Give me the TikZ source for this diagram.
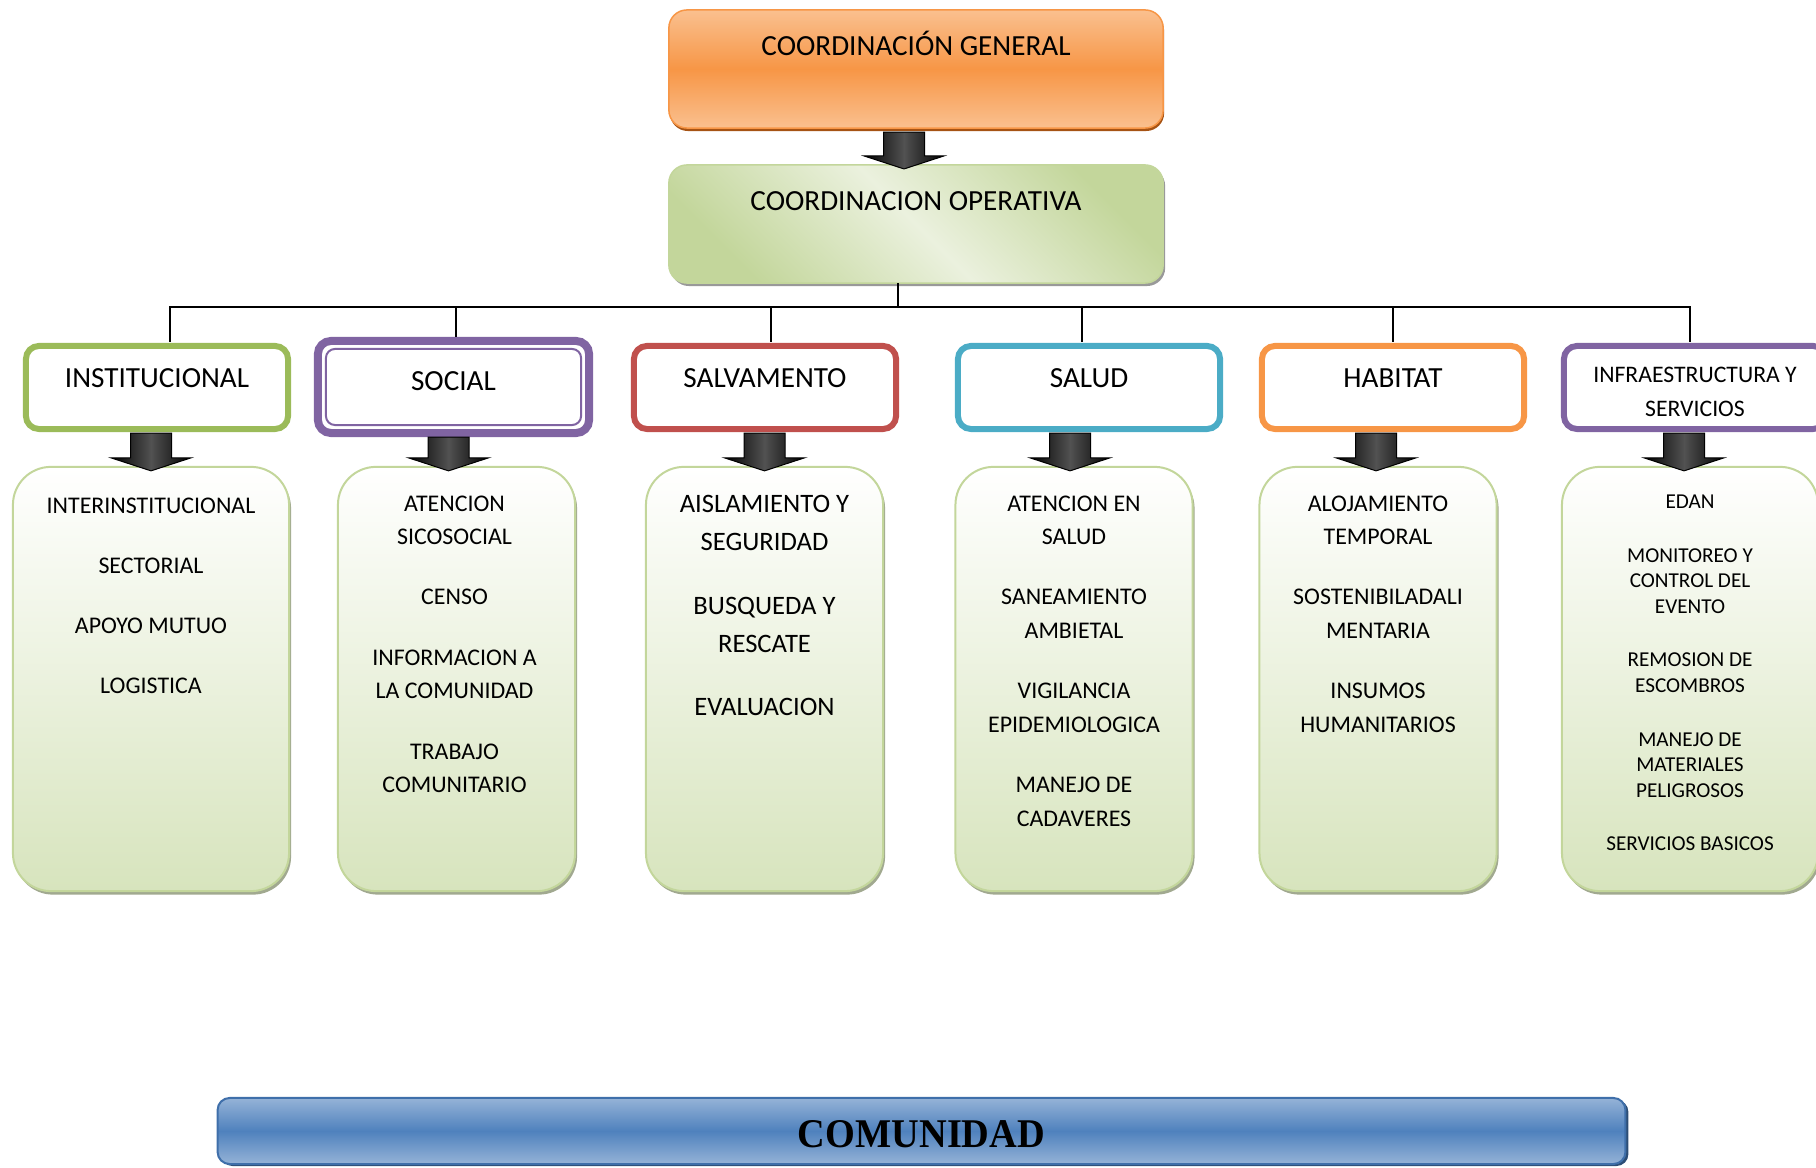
\documentclass[tikz,border=0pt]{standalone}
\usepackage{fontspec}
\setmainfont{Carlito}
\newfontfamily\comfont{Liberation Serif}
\usetikzlibrary{calc,shadows}

\definecolor{cgorange}{HTML}{F79646}
\definecolor{cglight}{HTML}{FAC08F}
\definecolor{cgshade}{HTML}{A65314}
\definecolor{cogreen}{HTML}{C3D69B}
\definecolor{colight}{HTML}{EBF1DE}
\definecolor{catgreen}{HTML}{9BBB59}
\definecolor{catpurple}{HTML}{8064A2}
\definecolor{catred}{HTML}{C0504D}
\definecolor{catblue}{HTML}{4BACC6}
\definecolor{catorange}{HTML}{F79646}
\definecolor{listline}{HTML}{C3D69B}
\definecolor{listfill}{HTML}{D7E4BD}
\definecolor{listshade}{HTML}{8A9474}
\definecolor{comblue}{HTML}{4F81BD}
\definecolor{comlight}{HTML}{95B3D7}
\definecolor{comline}{HTML}{3F6FAA}
\definecolor{comshade}{HTML}{2C4D75}

\tikzset{
  cgbox/.style={draw=cgorange, line width=0.015cm, rounded corners=0.18cm,
    top color=cglight, bottom color=cglight, middle color=cgorange,
    minimum width=4.94cm, minimum height=1.18cm, inner sep=0pt, outer sep=0pt,
    drop shadow={shadow xshift=0.01cm, shadow yshift=-0.03cm, fill=cgshade, opacity=1}},
  cobox/.style={draw=cogreen, line width=0.015cm, rounded corners=0.18cm,
    top color=cogreen, bottom color=cogreen, middle color=colight, shading angle=-45,
    minimum width=4.94cm, minimum height=1.18cm, inner sep=0pt, outer sep=0pt,
    drop shadow={shadow xshift=0.02cm, shadow yshift=-0.03cm, fill=black!50, opacity=0.8}},
  catbox/.style={draw=#1, line width=0.06cm, fill=white, rounded corners=0.13cm,
    minimum width=2.62cm, minimum height=0.83cm, inner sep=0pt, outer sep=0pt},
  listbox/.style={draw=listline, line width=0.02cm, top color=white, bottom color=listfill,
    rounded corners=0.38cm, minimum width=#1, minimum height=4.24cm, inner sep=0pt, outer sep=0pt,
    drop shadow={shadow xshift=0.02cm, shadow yshift=-0.035cm, fill=listshade, opacity=0.8}},
  combox/.style={draw=comline, line width=0.02cm, rounded corners=0.12cm,
    top color=comlight, bottom color=comlight, middle color=comblue,
    minimum width=14.07cm, minimum height=0.66cm, inner sep=0pt, outer sep=0pt,
    drop shadow={shadow xshift=0.03cm, shadow yshift=-0.02cm, fill=comshade, opacity=1}},
  bigtext/.style={inner sep=0pt, font=\fontsize{8.3}{10}\selectfont},
  cattext/.style={inner sep=0pt, font=\fontsize{8.3}{10}\selectfont},
  listtext/.style={inner sep=0pt, align=center, anchor=north, font=\fontsize{6.8}{9.6}\selectfont},
  tree/.style={line width=0.02cm, draw=black},
  blockarr/.style={draw=black, line width=0.01cm, left color=black, right color=black, middle color=black!68},
}

\newcommand{\blockarrow}[3][0]{%
  \coordinate (tip) at ($(#3.north)+(#1,-4)$);
  \coordinate (top) at (tip |- #2.south);
  \draw[blockarr] ($(top)+(-20.5,-4)$) -- ($(tip)+(-20.5,13)$) -- ($(tip)+(-40,13)$) -- (tip)
    -- ($(tip)+(40,13)$) -- ($(tip)+(20.5,13)$) -- ($(top)+(20.5,-4)$) -- cycle;
}

\begin{document}
\begin{tikzpicture}[x=0.01cm, y=0.01cm]
    \useasboundingbox (0,0) rectangle (1816,-1168);
    %% coordination
    \node[cgbox] (cg) at (916,-69) {};
    \node[bigtext, anchor=base] (cg-t) at ($(cg.north)+(0,-46)$) {COORDINACIÓN GENERAL};
    \node[cobox] (co) at (916,-224) {};
    \node[bigtext, anchor=base] (co-t) at ($(co.north)+(0,-45.5)$) {COORDINACION OPERATIVA};
    \blockarrow[-12]{cg}{co}
    %% areas
    \node[catbox=catgreen] (inst) at (157,-387.5) {};
    \node[catbox=catpurple, line width=0.08cm, minimum width=2.71cm, minimum height=0.92cm] (soc) at (453.5,-387) {};
    \draw[catpurple, line width=0.02cm, rounded corners=0.09cm] ($(soc.south west)+(8,8)$) rectangle ($(soc.north east)+(-8,-8)$);
    \node[catbox=catred] (salv) at (765,-387.5) {};
    \node[catbox=catblue] (salud) at (1089,-387.5) {};
    \node[catbox=catorange] (hab) at (1393,-387.5) {};
    \node[catbox=catpurple] (infra) at (1695,-387.5) {};
    \node[cattext, anchor=base] (inst-t) at (inst) {INSTITUCIONAL};
    \node[cattext, anchor=base] (soc-t) at ($(soc)+(0,-4)$) {SOCIAL};
    \node[cattext, anchor=base] (salv-t) at (salv) {SALVAMENTO};
    \node[cattext, anchor=base] (salud-t) at (salud) {SALUD};
    \node[cattext, anchor=base] (hab-t) at (hab) {HABITAT};
    \node[cattext, align=center, font=\fontsize{6.74}{9.67}\selectfont] (infra-t) at ($(infra)+(0,-4.5)$) {INFRAESTRUCTURA Y\\SERVICIOS};
    %% tree
    \coordinate (bus) at ($(co.south)+(-18,-24)$);
    \draw[tree] (co.south -| bus) -- (bus);
    \foreach \n/\dx in {inst/13,soc/2,salv/6,salud/-7,hab/0,infra/-5} {
        \draw[tree] ($(\n.north)+(\dx,4)$) |- (bus);
    }
    %% lists
    \node[listbox=2.76cm] (l-inst) at (151,-679) {};
    \node[listbox=2.37cm] (l-soc) at (456.5,-679) {};
    \node[listbox=2.37cm] (l-salv) at (764.5,-679) {};
    \node[listbox=2.37cm] (l-salud) at (1074,-679) {};
    \node[listbox=2.37cm] (l-hab) at (1378,-679) {};
    \node[listbox=2.56cm] (l-infra) at (1690,-679) {};
    \node[listtext] (l-inst-t) at ($(l-inst.north)+(0,-30)$)
        {INTERINSTITUCIONAL\\[7.5pt]SECTORIAL\\[7.5pt]APOYO MUTUO\\[7.5pt]LOGISTICA};
    \node[listtext] (l-soc-t) at ($(l-soc.north)+(-2,-28)$)
        {ATENCION\\SICOSOCIAL\\[7.5pt]CENSO\\[7.5pt]INFORMACION A\\LA COMUNIDAD\\[7.5pt]TRABAJO\\COMUNITARIO};
    \node[listtext, font=\fontsize{7.57}{10.8}\selectfont] (l-salv-t) at ($(l-salv.north)+(0,-28)$)
        {AISLAMIENTO Y\\SEGURIDAD\\[7.2pt]BUSQUEDA Y\\RESCATE\\[7.2pt]EVALUACION};
    \node[listtext] (l-salud-t) at ($(l-salud.north)+(0,-28)$)
        {ATENCION EN\\SALUD\\[7.5pt]SANEAMIENTO\\AMBIETAL\\[7.5pt]VIGILANCIA\\EPIDEMIOLOGICA\\[7.5pt]MANEJO DE\\CADAVERES};
    \node[listtext] (l-hab-t) at ($(l-hab.north)+(0,-28)$)
        {ALOJAMIENTO\\TEMPORAL\\[7.5pt]SOSTENIBILADALI\\MENTARIA\\[7.5pt]INSUMOS\\HUMANITARIOS};
    \node[listtext, font=\fontsize{6.03}{7.3}\selectfont] (l-infra-t) at ($(l-infra.north)+(0,-27.5)$)
        {EDAN\\[7.9pt]MONITOREO Y\\CONTROL DEL\\EVENTO\\[7.9pt]REMOSION DE\\ESCOMBROS\\[7.9pt]MANEJO DE\\MATERIALES\\PELIGROSOS\\[7.9pt]SERVICIOS BASICOS};
    \foreach \a/\b/\dx in {inst/l-inst/0,soc/l-soc/-8,salv/l-salv/0,salud/l-salud/-4,hab/l-hab/-2,infra/l-infra/-6} {
        \blockarrow[\dx]{\a}{\b}
    }
    %% community
    \node[combox] (com) at (921.5,-1131) {};
    \node[inner sep=0pt, font=\comfont\bfseries\fontsize{11.6}{14}\selectfont] (com-t) at ($(com)+(0,-3)$) {\scalebox{0.94}[1]{COMUNIDAD}};
\end{tikzpicture}
\end{document}
